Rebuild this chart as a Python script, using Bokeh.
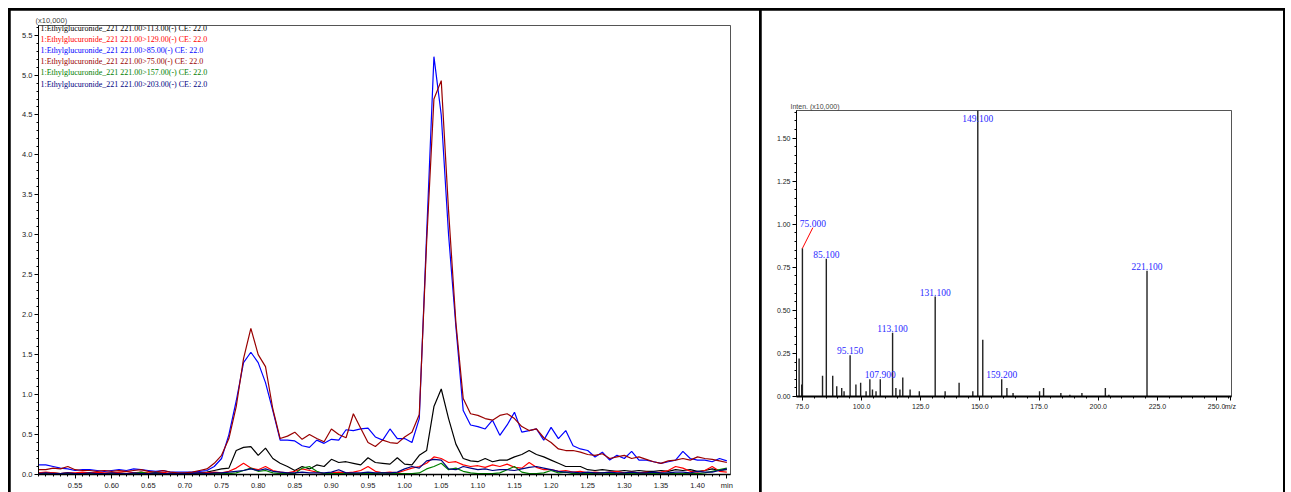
from bokeh.plotting import figure
from bokeh.layouts import row
from bokeh.models import ColumnDataSource, FixedTicker, Label, NumeralTickFormatter
from bokeh.embed import file_html
from bokeh.resources import INLINE
from bokeh.core.properties import value


# chromatogram (intensity x10,000 vs retention time, min)
rt = [0.50, 0.51, 0.52, 0.53, 0.54, 0.55, 0.56, 0.57, 0.58, 0.59,
      0.60, 0.61, 0.62, 0.63, 0.64, 0.65, 0.66, 0.67, 0.68, 0.69,
      0.70, 0.71, 0.72, 0.73, 0.74, 0.75, 0.76, 0.77, 0.78, 0.79,
      0.80, 0.81, 0.82, 0.83, 0.84, 0.85, 0.86, 0.87, 0.88, 0.89,
      0.90, 0.91, 0.92, 0.93, 0.94, 0.95, 0.96, 0.97, 0.98, 0.99,
      1.00, 1.01, 1.02, 1.03, 1.04, 1.05, 1.06, 1.07, 1.08, 1.09,
      1.10, 1.11, 1.12, 1.13, 1.14, 1.15, 1.16, 1.17, 1.18, 1.19,
      1.20, 1.21, 1.22, 1.23, 1.24, 1.25, 1.26, 1.27, 1.28, 1.29,
      1.30, 1.31, 1.32, 1.33, 1.34, 1.35, 1.36, 1.37, 1.38, 1.39,
      1.40, 1.41, 1.42, 1.43, 1.44]

mrm_113 = [0.02, 0.02, 0.02, 0.01, 0.02, 0.01, 0.01, 0.02, 0.01, 0.01,
           0.01, 0.02, 0.01, 0.01, 0.02, 0.01, 0.01, 0.01, 0.01, 0.01,
           0.01, 0.02, 0.02, 0.03, 0.05, 0.07, 0.08, 0.30, 0.34, 0.35,
           0.24, 0.33, 0.20, 0.14, 0.10, 0.05, 0.10, 0.07, 0.12, 0.10,
           0.19, 0.15, 0.16, 0.14, 0.12, 0.21, 0.15, 0.14, 0.13, 0.21,
           0.13, 0.12, 0.24, 0.30, 0.85, 1.07, 0.70, 0.38, 0.20, 0.17,
           0.16, 0.20, 0.16, 0.18, 0.18, 0.22, 0.25, 0.30, 0.25, 0.22,
           0.18, 0.14, 0.10, 0.10, 0.10, 0.06, 0.05, 0.06, 0.05, 0.04,
           0.05, 0.04, 0.05, 0.04, 0.04, 0.05, 0.04, 0.06, 0.05, 0.06,
           0.04, 0.05, 0.07, 0.05, 0.06]

mrm_129 = [0.02, 0.03, 0.02, 0.01, 0.02, 0.02, 0.03, 0.02, 0.03, 0.02,
           0.02, 0.03, 0.04, 0.02, 0.03, 0.02, 0.02, 0.03, 0.01, 0.01,
           0.01, 0.01, 0.02, 0.02, 0.03, 0.02, 0.04, 0.08, 0.14, 0.08,
           0.06, 0.10, 0.05, 0.03, 0.02, 0.04, 0.07, 0.05, 0.03, 0.01,
           0.02, 0.03, 0.02, 0.03, 0.05, 0.10, 0.04, 0.02, 0.03, 0.02,
           0.05, 0.08, 0.10, 0.14, 0.22, 0.20, 0.15, 0.16, 0.12, 0.10,
           0.11, 0.09, 0.12, 0.10, 0.13, 0.09, 0.08, 0.15, 0.09, 0.06,
           0.06, 0.04, 0.05, 0.03, 0.04, 0.02, 0.03, 0.02, 0.03, 0.04,
           0.02, 0.03, 0.02, 0.03, 0.02, 0.03, 0.05, 0.10, 0.08, 0.04,
           0.03, 0.05, 0.10, 0.04, 0.03]

mrm_85 = [0.12, 0.12, 0.10, 0.08, 0.07, 0.05, 0.06, 0.06, 0.05, 0.04,
          0.05, 0.06, 0.05, 0.07, 0.06, 0.05, 0.04, 0.05, 0.03, 0.03,
          0.03, 0.03, 0.04, 0.05, 0.10, 0.20, 0.50, 0.92, 1.40, 1.53,
          1.40, 1.15, 0.80, 0.43, 0.43, 0.42, 0.36, 0.34, 0.43, 0.39,
          0.44, 0.43, 0.56, 0.55, 0.57, 0.58, 0.47, 0.43, 0.57, 0.45,
          0.45, 0.40, 0.70, 3.00, 5.23, 4.50, 3.00, 1.85, 0.80, 0.62,
          0.60, 0.57, 0.68, 0.49, 0.62, 0.78, 0.53, 0.55, 0.57, 0.43,
          0.59, 0.45, 0.55, 0.36, 0.32, 0.30, 0.22, 0.28, 0.18, 0.24,
          0.20, 0.29, 0.18, 0.18, 0.16, 0.14, 0.16, 0.18, 0.29, 0.20,
          0.18, 0.18, 0.16, 0.20, 0.17]

mrm_75 = [0.06, 0.06, 0.08, 0.07, 0.10, 0.06, 0.05, 0.05, 0.04, 0.05,
          0.04, 0.05, 0.04, 0.05, 0.06, 0.04, 0.03, 0.05, 0.03, 0.02,
          0.02, 0.03, 0.05, 0.07, 0.14, 0.24, 0.45, 0.85, 1.45, 1.83,
          1.50, 1.35, 0.82, 0.45, 0.48, 0.53, 0.44, 0.50, 0.45, 0.41,
          0.57, 0.50, 0.46, 0.76, 0.58, 0.40, 0.35, 0.43, 0.40, 0.39,
          0.47, 0.53, 0.75, 2.90, 4.70, 4.93, 3.30, 1.90, 0.95, 0.76,
          0.74, 0.70, 0.68, 0.74, 0.76, 0.70, 0.60, 0.55, 0.57, 0.46,
          0.40, 0.32, 0.30, 0.30, 0.28, 0.25, 0.24, 0.26, 0.20, 0.22,
          0.24, 0.20, 0.22, 0.19, 0.16, 0.14, 0.17, 0.18, 0.20, 0.18,
          0.22, 0.20, 0.19, 0.17, 0.15]

mrm_157 = [0.01, 0.01, 0.01, 0.01, 0.01, 0.01, 0.01, 0.01, 0.01, 0.01,
           0.01, 0.01, 0.01, 0.01, 0.03, 0.01, 0.02, 0.01, 0.01, 0.01,
           0.01, 0.01, 0.01, 0.01, 0.01, 0.01, 0.01, 0.02, 0.05, 0.08,
           0.04, 0.05, 0.02, 0.01, 0.01, 0.01, 0.08, 0.10, 0.04, 0.01,
           0.01, 0.01, 0.01, 0.01, 0.01, 0.01, 0.01, 0.02, 0.01, 0.01,
           0.01, 0.01, 0.02, 0.07, 0.10, 0.14, 0.06, 0.08, 0.04, 0.02,
           0.01, 0.01, 0.01, 0.02, 0.06, 0.10, 0.03, 0.01, 0.01, 0.02,
           0.05, 0.02, 0.03, 0.01, 0.01, 0.01, 0.01, 0.02, 0.01, 0.01,
           0.01, 0.01, 0.01, 0.01, 0.01, 0.01, 0.01, 0.01, 0.01, 0.01,
           0.01, 0.02, 0.04, 0.06, 0.08]

mrm_203 = [0.01, 0.02, 0.01, 0.01, 0.02, 0.01, 0.01, 0.02, 0.01, 0.01,
           0.02, 0.01, 0.01, 0.02, 0.01, 0.01, 0.02, 0.01, 0.01, 0.01,
           0.01, 0.01, 0.02, 0.01, 0.02, 0.02, 0.03, 0.04, 0.05, 0.07,
           0.05, 0.07, 0.04, 0.03, 0.02, 0.02, 0.03, 0.02, 0.02, 0.02,
           0.03, 0.06, 0.02, 0.02, 0.02, 0.03, 0.02, 0.02, 0.02, 0.03,
           0.07, 0.10, 0.08, 0.17, 0.19, 0.18, 0.07, 0.06, 0.10, 0.08,
           0.06, 0.07, 0.05, 0.06, 0.06, 0.05, 0.07, 0.09, 0.10, 0.08,
           0.06, 0.04, 0.03, 0.03, 0.02, 0.03, 0.02, 0.02, 0.03, 0.02,
           0.02, 0.03, 0.02, 0.02, 0.03, 0.02, 0.02, 0.03, 0.03, 0.02,
           0.04, 0.03, 0.03, 0.05, 0.07]

trace_names = ["1:Ethylglucuronide_221 221.00>113.00(-) CE: 22.0",
               "1:Ethylglucuronide_221 221.00>129.00(-) CE: 22.0",
               "1:Ethylglucuronide_221 221.00>85.00(-) CE: 22.0",
               "1:Ethylglucuronide_221 221.00>75.00(-) CE: 22.0",
               "1:Ethylglucuronide_221 221.00>157.00(-) CE: 22.0",
               "1:Ethylglucuronide_221 221.00>203.00(-) CE: 22.0"]
trace_colors = ["#000000", "#ff0000", "#0000ff", "#990000", "#008000", "#000080"]
traces = [mrm_113, mrm_129, mrm_85, mrm_75, mrm_157, mrm_203]

rt_ticks = [0.55, 0.60, 0.65, 0.70, 0.75, 0.80, 0.85, 0.90, 0.95, 1.00,
            1.05, 1.10, 1.15, 1.20, 1.25, 1.30, 1.35, 1.40]
int_ticks = [0.0, 0.5, 1.0, 1.5, 2.0, 2.5, 3.0, 3.5, 4.0, 4.5, 5.0, 5.5]

# product ion spectrum (intensity x10,000 vs m/z)
mz = [73.6, 74.7, 75.0, 83.5, 85.1, 87.8, 89.5, 91.6, 92.6, 95.15,
      97.6, 99.6, 101.9, 103.5, 104.6, 106.1, 107.9, 113.1, 114.5, 116.2,
      117.4, 120.5, 124.4, 131.1, 135.3, 141.2, 147.0, 149.1, 151.2, 159.2,
      161.4, 164.0, 175.2, 176.9, 184.2, 188.0, 193.1, 203.0, 204.5, 220.6]
inten = [0.22, 0.07, 0.86, 0.12, 0.80, 0.12, 0.06, 0.05, 0.03, 0.24,
         0.07, 0.08, 0.03, 0.10, 0.04, 0.03, 0.10, 0.37, 0.05, 0.04,
         0.11, 0.04, 0.03, 0.58, 0.03, 0.08, 0.03, 1.72, 0.33, 0.10,
         0.05, 0.02, 0.03, 0.05, 0.02, 0.01, 0.02, 0.05, 0.01, 0.73]

peak_mz = [75.0, 85.1, 95.15, 107.9, 113.1, 131.1, 149.1, 159.2, 220.6]
peak_int = [0.86, 0.80, 0.24, 0.10, 0.37, 0.58, 1.72, 0.10, 0.73]
peak_text = ["75.000", "85.100", "95.150", "107.900", "113.100",
             "131.100", "149.100", "159.200", "221.100"]
# label shifts (data units) so that crowded labels move clear of the peaks
peak_dx = [4.4, 0, 0, 0, 0, 0, 0, 0, 0]
peak_dy = [0.12, 0, 0, 0, 0, 0, -0.135, 0, 0]

mz_ticks = [75, 100, 125, 150, 175, 200, 225, 250, 255.8]
sp_ticks = [0.0, 0.25, 0.5, 0.75, 1.0, 1.25, 1.5]

TICK_FONT = "Liberation Sans Narrow, Liberation Sans"
SERIF = "Liberation Serif"


def style_axes(p, font_size):
    for ax in (p.xaxis[0], p.yaxis[0]):
        ax.axis_line_color = "black"
        ax.major_tick_line_color = "black"
        ax.minor_tick_line_color = "black"
        ax.major_tick_in = 0
        ax.minor_tick_in = 0
        ax.major_tick_out = 4
        ax.minor_tick_out = 2
        ax.major_label_standoff = 2
        ax.major_label_text_font = TICK_FONT
        ax.major_label_text_font_size = font_size
        ax.major_label_text_color = "#222222"
    p.xgrid.grid_line_color = None
    p.ygrid.grid_line_color = None
    p.outline_line_color = "#555555"
    p.title.text_font = TICK_FONT
    p.title.text_font_size = font_size
    p.title.text_font_style = "normal"
    p.title.align = "left"
    p.title.standoff = 1
    p.frame_align = False


# ---- left: MRM chromatogram
p1 = figure(width=749, height=482, x_range=(0.50, 1.445), y_range=(0, 5.62),
            title="(x10,000)", output_backend="svg", toolbar_location=None,
            min_border_left=28, min_border_right=29, min_border_top=15,
            min_border_bottom=15)
style_axes(p1, "7.5px")
p1.title.offset = -3

for ys, c in zip(traces, trace_colors):
    src = ColumnDataSource(data=dict(rt=rt, y=ys))
    p1.line("rt", "y", source=src, line_color=c, line_width=1.2)

p1.xaxis.ticker = FixedTicker(ticks=rt_ticks + [1.44],
                              minor_ticks=[round(0.50 + i * 0.01, 2) for i in range(95)])
p1.xaxis.formatter = NumeralTickFormatter(format="0.00")
p1.xaxis.major_label_overrides = {1.44: "min"}
p1.xaxis.axis_line_width = 1.5
p1.yaxis.ticker = FixedTicker(ticks=int_ticks,
                              minor_ticks=[round(i * 0.1, 1) for i in range(57)])
p1.yaxis.formatter = NumeralTickFormatter(format="0.0")

frame_h1 = 482 - 15 - 15
for i, (name, c) in enumerate(zip(trace_names, trace_colors)):
    p1.add_layout(Label(x=2, y=frame_h1 - 1 - 11.2 * i, x_units="screen", y_units="screen",
                        text=name, text_color=c, text_font=SERIF,
                        text_font_size="8px", text_baseline="top"))

# ---- right: product ion spectrum
p2 = figure(width=522, height=482, x_range=(72.5, 256.3), y_range=(0, 1.66),
            title="Inten. (x10,000)", output_backend="svg", toolbar_location=None,
            min_border_left=35, min_border_right=52, min_border_top=100,
            min_border_bottom=96)
style_axes(p2, "7px")
p2.title.offset = -6

spec = ColumnDataSource(data=dict(mz=mz, base=[0] * len(mz), inten=inten))
p2.segment(x0="mz", y0="base", x1="mz", y1="inten", source=spec,
           line_color="#222222", line_width=1.4)

lbl = ColumnDataSource(data=dict(
    x=peak_mz, y=peak_int, text=peak_text,
    lx=[m + d for m, d in zip(peak_mz, peak_dx)],
    ly=[v + d for v, d in zip(peak_int, peak_dy)]))
lead = ColumnDataSource(data=dict(x0=peak_mz[:1], y0=peak_int[:1],
                                  x1=[peak_mz[0] + peak_dx[0]], y1=[peak_int[0] + peak_dy[0]]))
p2.segment(x0="x0", y0="y0", x1="x1", y1="y1", source=lead,
           line_color="#ff0000", line_width=1)
p2.text(x="lx", y="ly", text="text", source=lbl, text_align="center",
        text_baseline="bottom", text_color="#2a2aff", text_font=value(SERIF),
        text_font_size="9.5px", y_offset=-1)

p2.xaxis.ticker = FixedTicker(ticks=mz_ticks, minor_ticks=list(range(75, 256, 5)))
p2.xaxis.formatter = NumeralTickFormatter(format="0.0")
p2.xaxis.major_label_overrides = {255.8: "m/z"}
p2.xaxis.axis_line_width = 2
p2.yaxis.ticker = FixedTicker(ticks=sp_ticks,
                              minor_ticks=[round(i * 0.05, 2) for i in range(34)])
p2.yaxis.formatter = NumeralTickFormatter(format="0.00")

layout = row(p1, p2, spacing=2, margin=(8, 0, 0, 8),
             styles={"background-color": "black",
                     "border-top": "2px solid black",
                     "border-left": "2px solid black",
                     "border-right": "2px solid black"})

open("out.html", "w").write(file_html(layout, INLINE))
